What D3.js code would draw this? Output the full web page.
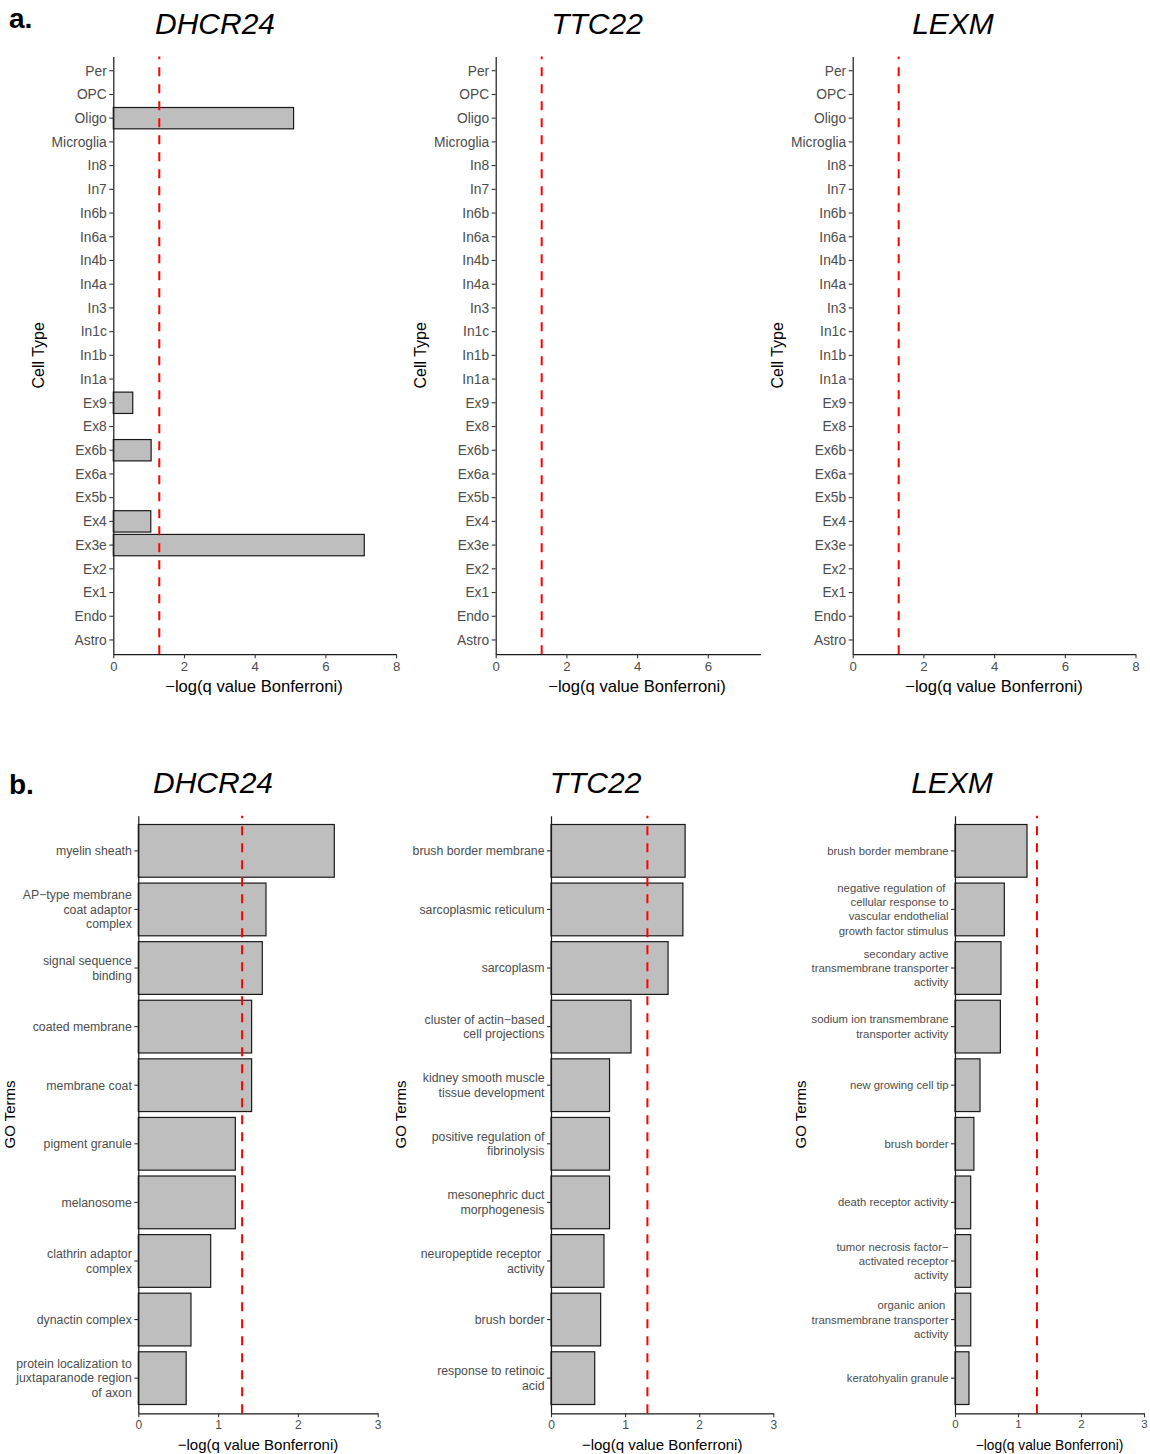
<!DOCTYPE html>
<html><head><meta charset="utf-8">
<script src="https://cdn.jsdelivr.net/npm/d3@7"></script>
<style>
body{margin:0;background:#fff}
svg text{font-family:"Liberation Sans",Arial,Helvetica,sans-serif}
</style>
</head><body>
<svg id="c" width="1150" height="1454"></svg>
<script>
// ---------- DATA ----------
const genes = ["DHCR24", "TTC22", "LEXM"];
// cell types listed bottom -> top
const cellTypes = ["Astro","Endo","Ex1","Ex2","Ex3e","Ex4","Ex5b","Ex6a","Ex6b","Ex8","Ex9",
  "In1a","In1b","In1c","In3","In4a","In4b","In6a","In6b","In7","In8","Microglia","Oligo","OPC","Per"];
const dhcr24Cell = [0,0,0,0,7.1,1.06,0,0,1.07,0,0.55,0,0,0,0,0,0,0,0,0,0,0,5.1,0,0];
const ttc22Cell  = [0,0,0,0,0,0,0,0,0,0,0,0,0,0,0,0,0,0,0,0,0,0,0,0,0];
const lexmCell   = [0,0,0,0,0,0,0,0,0,0,0,0,0,0,0,0,0,0,0,0,0,0,0,0,0];
const cellAxisMax = [8, 7.49, 8];
const cellTicks = [[0,2,4,6,8],[0,2,4,6],[0,2,4,6,8]];

// GO terms listed top -> bottom
const dhcr24Terms = ["myelin sheath","AP\u2212type membrane\ncoat adaptor\ncomplex","signal sequence\nbinding",
  "coated membrane","membrane coat","pigment granule","melanosome","clathrin adaptor\ncomplex",
  "dynactin complex","protein localization to\njuxtaparanode region\nof axon"];
const dhcr24GO = [2.456, 1.60, 1.554, 1.42, 1.42, 1.216, 1.216, 0.907, 0.66, 0.60];
const ttc22Terms = ["brush border membrane","sarcoplasmic reticulum","sarcoplasm",
  "cluster of actin\u2212based\ncell projections","kidney smooth muscle\ntissue development",
  "positive regulation of\nfibrinolysis","mesonephric duct\nmorphogenesis","neuropeptide receptor \nactivity",
  "brush border","response to retinoic\nacid"];
const ttc22GO = [1.81, 1.78, 1.58, 1.08, 0.79, 0.79, 0.79, 0.715, 0.67, 0.59];
const lexmTerms = ["brush border membrane","negative regulation of \ncellular response to\nvascular endothelial\ngrowth factor stimulus",
  "secondary active\ntransmembrane transporter\nactivity","sodium ion transmembrane\ntransporter activity",
  "new growing cell tip","brush border","death receptor activity",
  "tumor necrosis factor\u2212\nactivated receptor\nactivity","organic anion \ntransmembrane transporter\nactivity",
  "keratohyalin granule"];
const lexmGO = [1.143, 0.783, 0.73, 0.72, 0.397, 0.30, 0.249, 0.25, 0.25, 0.222];
const goTicks = [0,1,2,3];
const threshold = 1.301;
const xTitle = "\u2212log(q value Bonferroni)";

// ---------- DRAW ----------
const svg = d3.select("#c");

function panel(o) {
  const g = svg.append("g");
  const x = d3.scaleLinear().domain([0, o.axisMax]).range([o.x0, o.x0 + o.axisMax * o.ppu]);
  const y = d3.scaleBand().domain(o.cats).range(o.yRange).paddingInner(0.1).paddingOuter(0.15);
  const yTop = Math.min(...o.yRange), yBot = Math.max(...o.yRange);

  // bars
  g.selectAll("rect.bar").data(o.cats.map((c, i) => ({c, v: o.vals[i]})).filter(d => d.v > 0))
    .join("rect").attr("class","bar")
    .attr("x", x(0)).attr("y", d => y(d.c))
    .attr("width", d => x(d.v) - x(0)).attr("height", y.bandwidth())
    .attr("fill", "#bebebe").attr("stroke", "#1a1a1a").attr("stroke-width", 1.2);

  // threshold
  g.append("line").attr("x1", x(threshold)).attr("x2", x(threshold))
    .attr("y1", yBot).attr("y2", yTop)
    .attr("stroke", "#ff0000").attr("stroke-width", 2).attr("stroke-dasharray", "9,8");

  // x axis
  const ax = g.append("g").attr("transform", `translate(0,${yBot})`)
    .call(d3.axisBottom(x).tickValues(o.ticks).tickFormat(d3.format("d")).tickSize(4).tickSizeOuter(0).tickPadding(3));
  ax.select(".domain").attr("stroke", "#1a1a1a").attr("stroke-width", 1.2);
  ax.selectAll(".tick line").attr("stroke", "#333").attr("stroke-width", 1.1);
  ax.selectAll(".tick text").attr("fill", "#4d4d4d").attr("font-size", o.tickFont)
    .attr("font-family", null).attr("dy", "0.71em");

  // y axis
  const ay = g.append("g").attr("transform", `translate(${o.x0},0)`)
    .call(d3.axisLeft(y).tickSize(4).tickSizeOuter(0).tickFormat(""));
  ay.select(".domain").attr("stroke", "#1a1a1a").attr("stroke-width", 1.2);
  ay.selectAll(".tick line").attr("stroke", "#333").attr("stroke-width", 1.1);

  // y labels (multi-line)
  o.cats.forEach(c => {
    const lines = c.split("\n");
    const cy = y(c) + y.bandwidth() / 2;
    const t = g.append("text").attr("text-anchor", "end").attr("fill", "#4d4d4d")
      .attr("font-size", o.labelFont).style("white-space", "pre");
    lines.forEach((ln, i) => {
      t.append("tspan").attr("x", o.x0 - 6.5)
        .attr("y", cy + (i - (lines.length - 1) / 2) * o.lineH)
        .attr("dy", "0.35em").text(ln);
    });
  });

  // titles
  g.append("text").attr("x", o.titleCx).attr("y", o.titleY).attr("text-anchor", "middle")
    .attr("font-size", 30).attr("font-style", "italic").attr("fill", "#000").text(o.gene);
  g.append("text").attr("x", o.xTitleCx).attr("y", o.xTitleY).attr("text-anchor", "middle")
    .attr("font-size", o.xTitleFont).attr("fill", "#000").text(xTitle);
  g.append("text").attr("transform", `translate(${o.yTitleX},${(yTop + yBot) / 2}) rotate(-90)`)
    .attr("text-anchor", "middle").attr("font-size", o.yTitleFont).attr("fill", "#000").text(o.yTitle);
}

// Part a
const cellVals = [dhcr24Cell, ttc22Cell, lexmCell];
const aX0 = [113.3, 495.7, 852.7];
const aTitleCx = [215, 597, 953];
const aXTitleCx = [254, 637, 994];
const aYTitleX = [44, 425.5, 783];
genes.forEach((gName, i) => panel({
  gene: gName, x0: aX0[i], ppu: 35.35, axisMax: cellAxisMax[i], ticks: cellTicks[i],
  cats: cellTypes, vals: cellVals[i], yRange: [654.2, 56.5],
  labelFont: 13.8, lineH: 15, tickFont: 13.2,
  titleCx: aTitleCx[i], titleY: 34,
  xTitleCx: aXTitleCx[i], xTitleY: 692, xTitleFont: 16.6,
  yTitle: "Cell Type", yTitleX: aYTitleX[i], yTitleFont: 16
}));

// Part b
const goTerms = [dhcr24Terms, ttc22Terms, lexmTerms];
const goVals = [dhcr24GO, ttc22GO, lexmGO];
const bX0 = [138.3, 551, 955];
const bPpu = [79.8, 74.1, 63];
const bTitleCx = [213, 595.5, 952];
const bYTitleX = [15, 406, 806];
const bLabelFont = [12.3, 12.3, 11.3];
const bLineH = [14.5, 14.5, 14.2];
const bTickFont = [12, 12, 11.5];
const bXTitleFont = [15, 15, 13.8];
genes.forEach((gName, i) => panel({
  gene: gName, x0: bX0[i], ppu: bPpu[i], axisMax: 3, ticks: goTicks,
  cats: goTerms[i], vals: goVals[i], yRange: [815.7, 1413.3],
  labelFont: bLabelFont[i], lineH: bLineH[i], tickFont: bTickFont[i],
  titleCx: bTitleCx[i], titleY: 793,
  xTitleCx: bX0[i] + 1.5 * bPpu[i], xTitleY: 1450, xTitleFont: bXTitleFont[i],
  yTitle: "GO Terms", yTitleX: bYTitleX[i], yTitleFont: 15
}));

// panel tags
svg.append("text").attr("x", 9).attr("y", 28).attr("font-size", 28).attr("font-weight", "bold").text("a.");
svg.append("text").attr("x", 9).attr("y", 794).attr("font-size", 28).attr("font-weight", "bold").text("b.");
</script>
</body></html>
